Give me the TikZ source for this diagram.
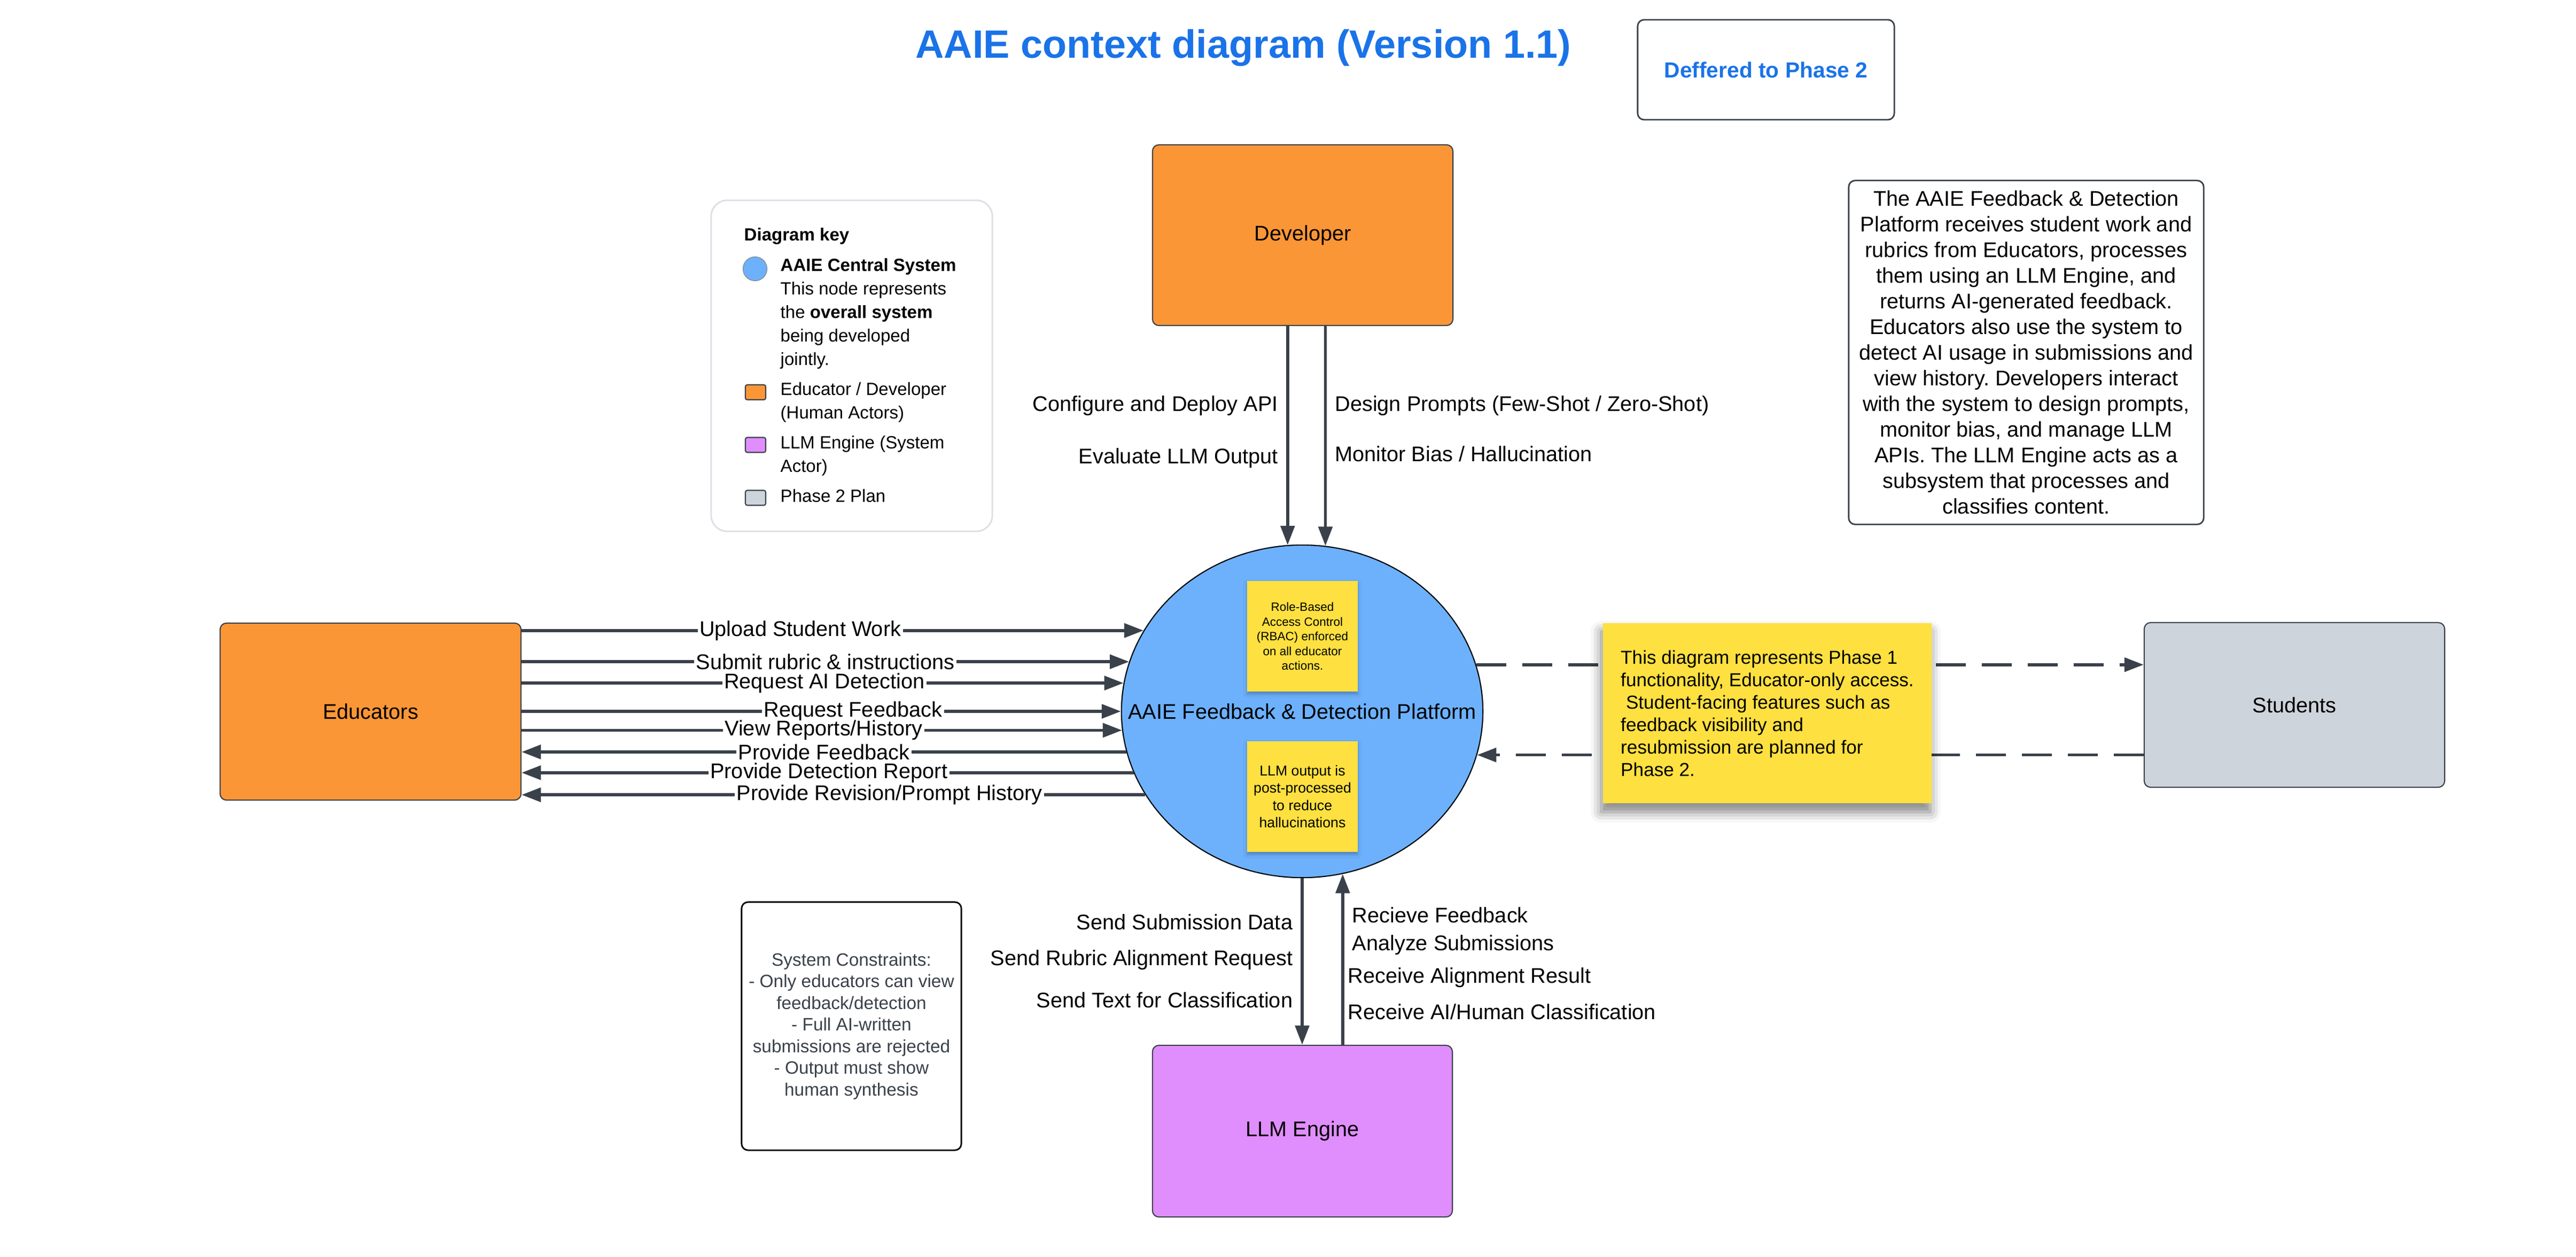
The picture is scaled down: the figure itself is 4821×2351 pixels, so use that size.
\documentclass[tikz,border=0pt]{standalone}
\usepackage{fontspec}
\setmainfont{Liberation Sans}
\usetikzlibrary{arrows.meta,shapes.geometric,shadows.blur}
\frenchspacing

\definecolor{lineg}{HTML}{3A414A}
\definecolor{actor}{HTML}{FB9637}
\definecolor{sysblue}{HTML}{6DB1FD}
\definecolor{llmpurple}{HTML}{E08EFD}
\definecolor{phasegray}{HTML}{CED4DC}
\definecolor{notey}{HTML}{FEE040}
\definecolor{titleblue}{HTML}{1A73E8}
\definecolor{keyedge}{HTML}{DCE0E5}

\newcommand{\fTitle}{\fontsize{21pt}{25pt}\selectfont\bfseries}
\newcommand{\fDef}{\fontsize{11.6pt}{14pt}\selectfont\bfseries}
\newcommand{\fLbl}{\fontsize{11.3pt}{13.66pt}\selectfont}
\newcommand{\fKey}{\fontsize{9.4pt}{12.52pt}\selectfont}
\newcommand{\fNote}{\fontsize{10pt}{11.95pt}\selectfont}
\newcommand{\fCons}{\fontsize{9.5pt}{11.52pt}\selectfont}
\newcommand{\fRbac}{\fontsize{6.4pt}{7.82pt}\selectfont}
\newcommand{\fPost}{\fontsize{7.6pt}{9.19pt}\selectfont}

\begin{document}
\begin{tikzpicture}[x=0.01cm, y=-0.01cm, every node/.style={inner sep=0pt, font=\fLbl}]
	\tikzstyle{actorbox}=[draw=lineg, line width=0.6pt, fill=actor, rounded corners=0.12cm]
	\tikzstyle{plainbox}=[draw=lineg, line width=0.8pt, rounded corners=0.12cm]
	\tikzstyle{txtbox}=[draw=lineg, line width=0.8pt, rounded corners=0.12cm, align=center]
	\tikzstyle{stickynote}=[fill=notey, align=center, blur shadow={shadow xshift=0pt, shadow yshift=-0.05cm, shadow blur radius=0.06cm, shadow opacity=25}]
	\tikzstyle{keytxt}=[anchor=north west, align=left, font=\fKey]
	\tikzstyle{keysq}=[draw=lineg, line width=0.6pt, rounded corners=1pt, minimum width=0.38cm, minimum height=0.28cm]
	\tikzstyle{flow}=[draw=lineg, line width=1.6pt, -{Triangle[length=0.36cm,width=0.26cm]}]
	\tikzstyle{dflow}=[flow, dash pattern=on 0.56cm off 0.3cm]
	\tikzstyle{llab}=[anchor=east, xshift=-0.15cm]
	\tikzstyle{rlab}=[anchor=west, xshift=0.15cm]
	\tikzstyle{onl}=[fill=white, inner xsep=1pt]
	\useasboundingbox (0,0) rectangle (4821,2351);

	\node[anchor=base, font=\fTitle, text=titleblue] (ttl) at (2327,108) {AAIE context diagram (Version 1.1)};
	\node[plainbox, font=\fDef, text=titleblue, minimum width=4.8cm, minimum height=1.87cm] (dfr) at (3305,130.5) {Deffered to Phase 2};

	\node[actorbox, minimum width=5.62cm, minimum height=3.38cm] (dev) at (2438,440) {Developer};
	\node[actorbox, minimum width=5.63cm, minimum height=3.31cm] (edu) at (693.5,1331.5) {Educators};
	\node[actorbox, fill=llmpurple, minimum width=5.61cm, minimum height=3.21cm] (llm) at (2437.5,2116.5) {LLM Engine};
	\node[actorbox, fill=phasegray, minimum width=5.62cm, minimum height=3.08cm] (stu) at (4294,1319) {Students};
	\node[ellipse, draw=black, line width=0.6pt, fill=sysblue, minimum width=6.76cm, minimum height=6.22cm,
		label={center:AAIE Feedback \& Detection Platform}] (sys) at (2437,1331) {};

	\node[stickynote, font=\fRbac, minimum width=2.07cm, minimum height=2.07cm] (n1) at (2437.5,1190.5) {Role-Based\\Access Control\\(RBAC) enforced\\on all educator\\actions.};
	\node[stickynote, font=\fPost, minimum width=2.07cm, minimum height=2.07cm] (n2) at (2437.5,1490.5) {LLM output is\\post-processed\\to reduce\\hallucinations};

	\node[draw=keyedge, line width=0.85pt, rounded corners=0.3cm, minimum width=5.26cm, minimum height=6.19cm] (key) at (1594,684.5) {};
	\node[anchor=north west, font=\fKey\bfseries] (k0) at (1392,426) {Diagram key};
	\node[circle, draw=gray, line width=0.3pt, fill=sysblue, minimum size=0.45cm] (k1) at (1413,503) {};
	\node[keytxt] (t1) at (1460,483) {\textbf{AAIE Central System}\\This node represents\\the \textbf{overall system}\\being developed\\jointly.};
	\node[keysq, fill=actor] (k2) at (1414,734) {};
	\node[keytxt] (t2) at (1460,715) {Educator / Developer\\(Human Actors)};
	\node[keysq, fill=llmpurple] (k3) at (1414,832.5) {};
	\node[keytxt] (t3) at (1460,815) {LLM Engine (System\\Actor)};
	\node[keysq, fill=phasegray] (k4) at (1414,931.5) {};
	\node[keytxt] (t4) at (1460,915) {Phase 2 Plan};

	\node[txtbox, minimum width=6.64cm, minimum height=6.43cm] (desc) at (3792,659.5) {The AAIE Feedback \& Detection\\Platform receives student work and\\rubrics from Educators, processes\\them using an LLM Engine, and\\returns AI-generated feedback.\\Educators also use the system to\\detect AI usage in submissions and\\view history. Developers interact\\with the system to design prompts,\\monitor bias, and manage LLM\\APIs. The LLM Engine acts as a\\subsystem that processes and\\classifies content.};
	\node[txtbox, draw=black, text=lineg, font=\fCons, minimum width=4.11cm, minimum height=4.64cm] (cons) at (1593.5,1920) {System Constraints:\\- Only educators can view\\feedback/detection\\- Full AI-written\\submissions are rejected\\- Output must show\\human synthesis};

	\draw[flow] (sys.95.72 |- dev.south) -- node[pos=0.364, llab] {Configure and Deploy API} node[pos=0.604, llab] {Evaluate LLM Output} (sys.95.72);
	\draw[flow] (sys.82.43 |- dev.south) -- node[pos=0.363, rlab] {Design Prompts (Few-Shot / Zero-Shot)} node[pos=0.581, rlab] {Monitor Bias / Hallucination} (sys.82.43);

	\draw[flow] (sys.153.54 -| edu.east) -- node[pos=0.448, onl] {Upload Student Work} (sys.153.54);
	\draw[flow] (sys.164.45 -| edu.east) -- node[pos=0.5, onl] {Submit rubric \& instructions} (sys.164.45);
	\draw[flow] (sys.171.65 -| edu.east) -- node[pos=0.503, onl] {Request AI Detection} (sys.171.65);
	\draw[flow] (sys.180 -| edu.east) -- node[pos=0.553, onl] {Request Feedback} (sys.180);
	\draw[flow] (sys.186.29 -| edu.east) -- node[pos=0.503, onl] {View Reports/History} (sys.186.29);
	\draw[flow] (sys.193.94) -- node[pos=0.5, onl] {Provide Feedback} (sys.193.94 -| edu.east);
	\draw[flow] (sys.200.12) -- node[pos=0.498, onl] {Provide Detection Report} (sys.200.12 -| edu.east);
	\draw[flow] (sys.208.08) -- node[pos=0.41, onl] {Provide Revision/Prompt History} (sys.208.08 -| edu.east);

	\draw[flow] (sys.south) -- node[pos=0.264, llab] {Send Submission Data} node[pos=0.49, llab] {Send Rubric Alignment Request} node[pos=0.732, llab] {Send Text for Classification} (sys.south |- llm.north);
	\draw[flow] (sys.284.45 |- llm.north) -- node[pos=0.76, rlab] {Recieve Feedback} node[pos=0.583, rlab] {Analyze Submissions} node[pos=0.394, rlab, xshift=-0.08cm] {Receive Alignment Result} node[pos=0.192, rlab, xshift=-0.08cm] {Receive AI/Human Classification} (sys.284.45);

	\draw[dflow] (sys.15.36) -- (sys.15.36 -| stu.west);
	\draw[dflow] (sys.346.59 -| stu.west) -- (sys.346.59);

	\node[stickynote, align=left, font=\fNote, minimum width=6.15cm, minimum height=3.37cm,
		blur shadow={shadow xshift=-0.03cm, shadow yshift=-0.16cm, shadow blur radius=0.2cm, shadow opacity=28}] (n3) at (3307.5,1334.5) {This diagram represents Phase 1\\functionality, Educator-only access.\\\ Student-facing features such as\\feedback visibility and\\resubmission are planned for\\Phase 2.};
\end{tikzpicture}
\end{document}
